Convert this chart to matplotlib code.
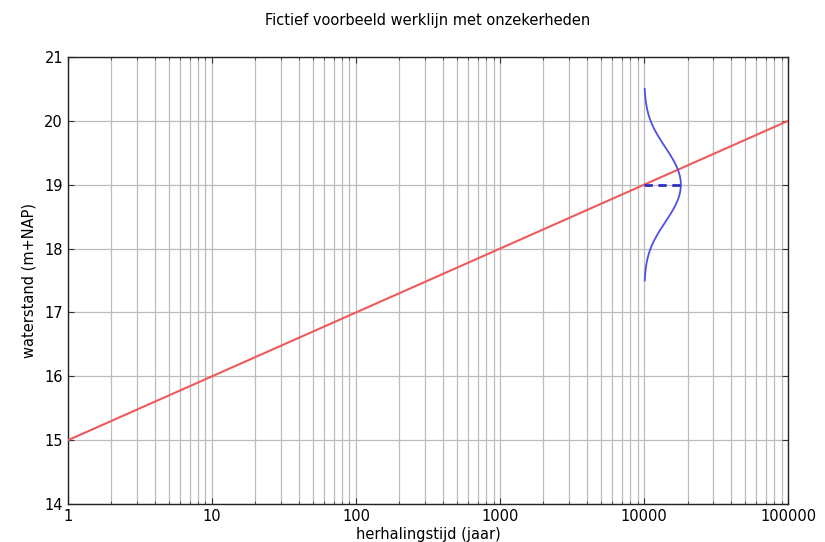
import numpy as np
import matplotlib
matplotlib.use("Agg")
import matplotlib.pyplot as plt
from matplotlib.ticker import FixedLocator, FixedFormatter, LogLocator, NullFormatter

# Data
return_periods = [1, 10, 100, 1000, 10000, 100000]
water_levels = [15, 16, 17, 18, 19, 20]
design_period = 10000
design_level = 19.0
level_sigma = 0.5
xtick_labels = ["1", "10", "100", "1000", "10000", "100000"]
ytick_values = [14, 15, 16, 17, 18, 19, 20, 21]

fig = plt.figure(figsize=(8.25, 5.42), dpi=100)
ax = fig.add_axes([0.0824, 0.070, 0.873, 0.825])

ax.plot(return_periods, water_levels, color="#ee5a5a", lw=1.5, zorder=3)

yy = np.linspace(design_level - 3 * level_sigma, design_level + 3 * level_sigma, 200)
pdf = np.exp(-0.5 * ((yy - design_level) / level_sigma) ** 2) / (level_sigma * np.sqrt(2 * np.pi))
xx = design_period * (1 + pdf)
ax.plot(xx, yy, color="#5050e8", lw=1.3, zorder=4)
peak = design_period * (1 + 1 / (level_sigma * np.sqrt(2 * np.pi)))
ax.plot([design_period, peak], [design_level, design_level], color="#3030c0",
        lw=2, ls=(0, (3, 2)), zorder=4)

ax.set_xscale("log")
ax.set_xlim(1, 100000)
ax.set_ylim(14, 21)
ax.xaxis.set_major_locator(FixedLocator(return_periods))
ax.xaxis.set_major_formatter(FixedFormatter(xtick_labels))
ax.xaxis.set_minor_locator(LogLocator(base=10, subs=np.arange(2, 10)))
ax.xaxis.set_minor_formatter(NullFormatter())
ax.set_yticks(ytick_values)

ax.grid(True, which="both", color="#bcbcbc", lw=0.9, ls="-")
ax.set_axisbelow(True)
ax.tick_params(which="both", direction="in", top=True, right=True, labelsize=10.5, color="#333333")
ax.tick_params(which="major", length=4)
ax.tick_params(which="minor", length=2)
for s in ax.spines.values():
    s.set_color("#222222")
    s.set_linewidth(1.0)

ax.set_xlabel("herhalingstijd (jaar)", fontsize=10.5, labelpad=2)
ax.set_ylabel("waterstand (m+NAP)", fontsize=10.5, labelpad=6)
ax.set_title("Fictief voorbeeld werklijn met onzekerheden", fontsize=10.5, pad=23)

fig.savefig("out.png", dpi=100)
